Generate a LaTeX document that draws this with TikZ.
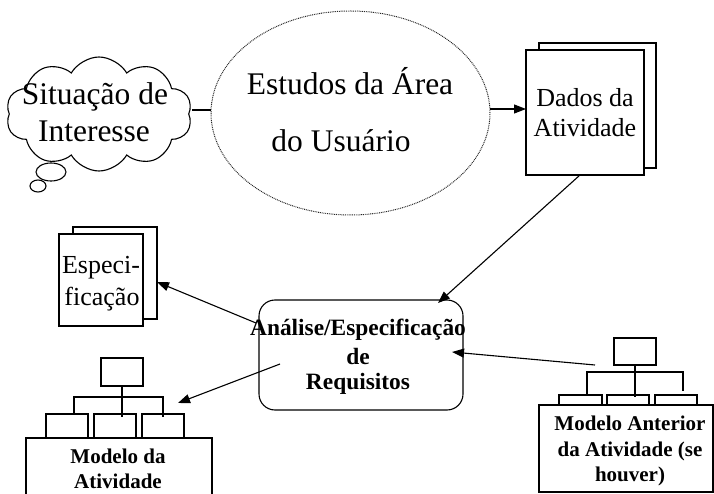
\documentclass[tikz,border=0pt]{standalone}
\usepackage{fontspec}
\setmainfont{Liberation Serif}
\usetikzlibrary{shapes.symbols,shapes.geometric,arrows.meta}
\begin{document}
\begin{tikzpicture}[x=1pt,y=-1pt,
  ln/.style={line width=1.1pt},
  arr/.style={line width=1.1pt,-{Triangle[length=12pt,width=9pt]}},
  box/.style={draw,line width=1.1pt,fill=white,inner sep=0pt,outer sep=0pt},
  bigtxt/.style={font=\fontsize{31.5}{37}\selectfont,inner sep=0pt},
  midtxt/.style={font=\fontsize{26}{30}\selectfont,inner sep=0pt},
  boldtxt/.style={font=\fontsize{23.4}{27}\selectfont\bfseries,inner sep=0pt},
  modtxt/.style={font=\fontsize{21}{25}\selectfont\bfseries,inner sep=0pt}]
\useasboundingbox (0,0) rectangle (714,494);
\clip (0,0) rectangle (714,494);

% cloud
\node[cloud, draw, line width=1.1pt, cloud puffs=10, cloud puff arc=120, cloud ignores aspect,
  minimum width=186pt, minimum height=114pt, inner sep=0pt] (cloud) at (99,114) {};
\node[draw, ellipse, line width=1.1pt, fill=white, minimum width=30pt, minimum height=18pt, inner sep=0pt] (bub1) at (51,172) {};
\node[draw, ellipse, line width=1.1pt, fill=white, minimum width=16pt, minimum height=12pt, inner sep=0pt] (bub2) at (38,186) {};
\node[bigtxt, anchor=base] (sit1) at (95,105) {Situação de};
\node[bigtxt, anchor=base] (sit2) at (94,142) {Interesse};

% ellipse
\node[ellipse, draw=black!85, line width=1pt, dash pattern=on 0.9pt off 0.9pt,
  minimum width=279pt, minimum height=204pt, inner sep=0pt] (est) at (350.5,113) {};
\node[bigtxt, anchor=base] (est1) at (350,95) {Estudos da Área};
\node[bigtxt, anchor=base] (est2) at (341,152) {do Usuário};
\coordinate (c1) at (192,110);
\coordinate (c2) at (211,110);
\draw[ln] (c1) -- (c2);

% Dados
\node[box, minimum width=117pt, minimum height=125pt] (dadosb) at (597.5,105.5) {};
\node[box, minimum width=118pt, minimum height=125pt] (dados) at (585,112.5) {};
\node[midtxt, anchor=base] (dt1) at (585,107) {Dados da};
\node[midtxt, anchor=base] (dt2) at (585,137) {Atividade};
\coordinate (e1) at (490,109);
\draw[arr] (e1) -- (dados.west |- e1);

% Especificacao
\node[box, minimum width=84pt, minimum height=92pt] (espb) at (115,273) {};
\node[box, minimum width=84pt, minimum height=92pt] (esp) at (101,280) {};
\node[midtxt, anchor=base] (es1) at (101,273) {Especi-};
\node[midtxt, anchor=base] (es2) at (102,305) {ficação};

% Analise
\node[draw, line width=1.1pt, rounded corners=16pt, minimum width=204pt, minimum height=110pt, inner sep=0pt] (ana) at (361,355) {};
\node[boldtxt, anchor=base] (an1) at (358,335) {Análise/Especificação};
\node[boldtxt, anchor=base] (an2) at (358,364) {de};
\node[boldtxt, anchor=base] (an3) at (358,389) {Requisitos};

% tree left
\node[box, minimum width=42pt, minimum height=28pt] (lt) at (122,372) {};
\node[box, minimum width=42pt, minimum height=30pt] (lc1) at (67,429) {};
\node[box, minimum width=42pt, minimum height=30pt] (lc2) at (115,429) {};
\node[box, minimum width=42pt, minimum height=30pt] (lc3) at (163,429) {};
\coordinate (lb1) at (74,397);
\coordinate (lb2) at (163,397);
\coordinate (lbm) at (122,417);
\draw[ln] (lt.south) -- (lbm);
\draw[ln] (74,414) -- (lb1) -- (lb2) -- (163,417);
\node[box, minimum width=186pt, minimum height=70pt] (mod) at (119,473) {};
\node[modtxt, anchor=base] (m1) at (118,463) {Modelo da};
\node[modtxt, anchor=base] (m2) at (118,488) {Atividade};

% tree right
\node[box, minimum width=42pt, minimum height=27pt] (rt) at (635,351.5) {};
\node[box, minimum width=43pt, minimum height=14pt] (rc1) at (580.5,402) {};
\node[box, minimum width=42pt, minimum height=14pt] (rc2) at (628,402) {};
\node[box, minimum width=42pt, minimum height=14pt] (rc3) at (676,402) {};
\coordinate (rb1) at (587,372);
\coordinate (rb2) at (683,372);
\coordinate (rbm) at (635,397);
\draw[ln] (rt.south) -- (rbm);
\draw[ln] (587,395) -- (rb1) -- (rb2) -- (683,391);
\node[box, minimum width=174pt, minimum height=87pt] (ant) at (626,448.5) {};
\node[modtxt, anchor=base] (a1) at (630,430) {Modelo Anterior};
\node[modtxt, anchor=base] (a2) at (630,456) {da Atividade (se};
\node[modtxt, anchor=base] (a3) at (630,481) {houver)};

% arrows
\coordinate (d1) at (580,175);
\coordinate (d2) at (438,303);
\draw[arr] (d1) -- (d2);
\coordinate (s1) at (256,323);
\coordinate (s2) at (157,282);
\draw[arr] (s1) -- (s2);
\coordinate (m3) at (280,364);
\coordinate (m4) at (178,403);
\draw[arr] (m3) -- (m4);
\coordinate (p1) at (595,365);
\coordinate (p2) at (452,352);
\draw[arr] (p1) -- (p2);
\end{tikzpicture}
\end{document}
